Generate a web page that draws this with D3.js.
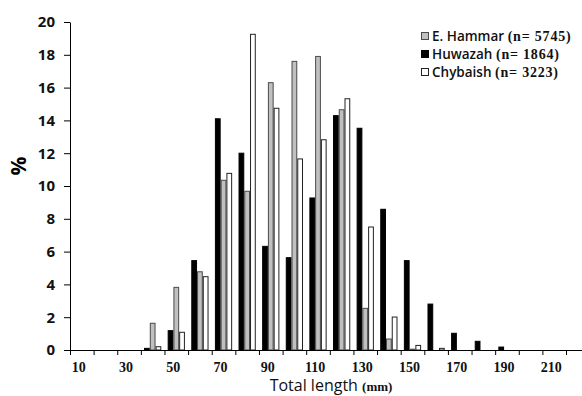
<!DOCTYPE html>
<html><head><meta charset="utf-8">
<script src="https://cdn.jsdelivr.net/npm/d3@7"></script>
<style>body{margin:0;background:#fff}svg{display:block}</style>
</head><body><svg id="c" width="582" height="396"></svg>
<script>
const categories = [10,20,30,40,50,60,70,80,90,100,110,120,130,140,150,160,170,180,190,200,210,220];
const tickLabels = [10,30,50,70,90,110,130,150,170,190,210];
const yTicks = [0,2,4,6,8,10,12,14,16,18,20];
const huwazah  = [0,0,0,0.1,1.18,5.45,14.1,12.0,6.32,5.63,9.27,14.29,13.52,8.58,5.45,2.8,1.02,0.53,0.18,0,0,0];
const eHammar  = [0,0,0,1.63,3.82,4.77,10.35,9.68,16.3,17.6,17.9,14.65,2.54,0.67,0.05,0,0,0,0,0,0,0];
const chybaish = [0,0,0,0.2,1.08,4.47,10.77,19.25,14.74,11.65,12.82,15.32,7.5,2.01,0.28,0.1,0,0,0,0,0,0];
const seriesOrder = ["huwazah","eHammar","chybaish"];
const seriesNames = {eHammar:"E. Hammar", huwazah:"Huwazah", chybaish:"Chybaish"};
const seriesN = {eHammar:"(n= 5745)", huwazah:"(n= 1864)", chybaish:"(n= 3223)"};
const legendOrder = ["eHammar","huwazah","chybaish"];
const seriesData = {huwazah, eHammar, chybaish};

const fills = {huwazah:"#000000", eHammar:"#c0c0c0", chybaish:"#ffffff"};
const strokes = {huwazah:"#000000", eHammar:"#4a4a4a", chybaish:"#222222"};

const svg = d3.select("#c");
const mLeft = 70, mBottom = 350, mTop = 22, step = 23.62;
const x0 = d3.scaleBand().domain(categories).range([mLeft, mLeft + step*categories.length]).padding(0);
const pad = x0.bandwidth()*0.135;
const x1 = d3.scaleBand().domain(seriesOrder).range([pad, x0.bandwidth()-pad]).padding(0);
const y = d3.scaleLinear().domain([0,20]).range([mBottom, mTop]);
const xEdge = d3.scaleLinear().domain([0, categories.length]).range([mLeft, mLeft + step*categories.length]);

// bars
const rows = [];
categories.forEach((c,i)=>seriesOrder.forEach(s=>{ if(seriesData[s][i]>0) rows.push({c, s, v:seriesData[s][i]}); }));
svg.append("g").selectAll("rect").data(rows).join("rect")
  .attr("x", d=>x0(d.c)+x1(d.s)+0.5)
  .attr("y", d=>y(d.v))
  .attr("width", x1.bandwidth()-1)
  .attr("height", d=>y(0)-y(d.v))
  .attr("fill", d=>fills[d.s])
  .attr("stroke", d=>strokes[d.s])
  .attr("stroke-width", 1);

// y axis
const yAxis = svg.append("g").attr("transform",`translate(${mLeft},0)`)
  .call(d3.axisLeft(y).tickValues(yTicks).tickSize(6).tickSizeOuter(0).tickPadding(9));
yAxis.selectAll("text").attr("font-family","'Open Sans', sans-serif").attr("font-weight","bold").attr("font-size","15px").attr("fill","#111");
yAxis.selectAll("line,path").attr("stroke","#000");

// x axis ticks at category edges
const xAxis = svg.append("g").attr("transform",`translate(0,${mBottom})`)
  .call(d3.axisBottom(xEdge).tickValues(d3.range(0, categories.length+1)).tickSize(5).tickSizeOuter(0).tickFormat(""));
xAxis.selectAll("line,path").attr("stroke","#000");
// x labels
const xLab = svg.append("g").attr("transform",`translate(-3,${mBottom})`)
  .call(d3.axisBottom(x0).tickValues(tickLabels).tickSize(0).tickPadding(12));
xLab.select(".domain").remove();
xLab.selectAll("text").attr("font-family","'Liberation Serif', serif").attr("font-weight","bold").attr("font-size","14px").attr("fill","#111");

// axis titles
svg.append("text").attr("transform","translate(26,166) rotate(-90)")
  .attr("text-anchor","middle").attr("font-family","'Open Sans', sans-serif").attr("font-weight","bold").attr("font-size","21px").text("%");
const xt = svg.append("text").attr("x", 331).attr("y", 391).attr("text-anchor","middle").attr("fill","#111");
xt.append("tspan").attr("font-family","'Open Sans', sans-serif").attr("font-size","16px").text("Total length ");
xt.append("tspan").attr("font-family","'Liberation Serif', serif").attr("font-weight","bold").attr("font-size","13px").text("(mm)");

// legend
const lg = svg.append("g").attr("transform","translate(421,27)");
const li = lg.selectAll("g").data(legendOrder).join("g").attr("transform",(d,i)=>`translate(0,${i*18})`);
li.append("rect").attr("x",0.5).attr("y",5.5).attr("width",7).attr("height",7)
  .attr("fill",d=>fills[d]).attr("stroke",d=>strokes[d]);
const lt = li.append("text").attr("x",11).attr("y",14).attr("fill","#111");
lt.append("tspan").attr("font-family","'Open Sans', sans-serif").attr("font-weight","600").attr("font-size","13.5px").text(d=>seriesNames[d]+" ");
lt.append("tspan").attr("font-family","'Liberation Serif', serif").attr("font-weight","bold").attr("font-size","14px").attr("letter-spacing","0.8px").text(d=>seriesN[d]);
</script></body></html>
